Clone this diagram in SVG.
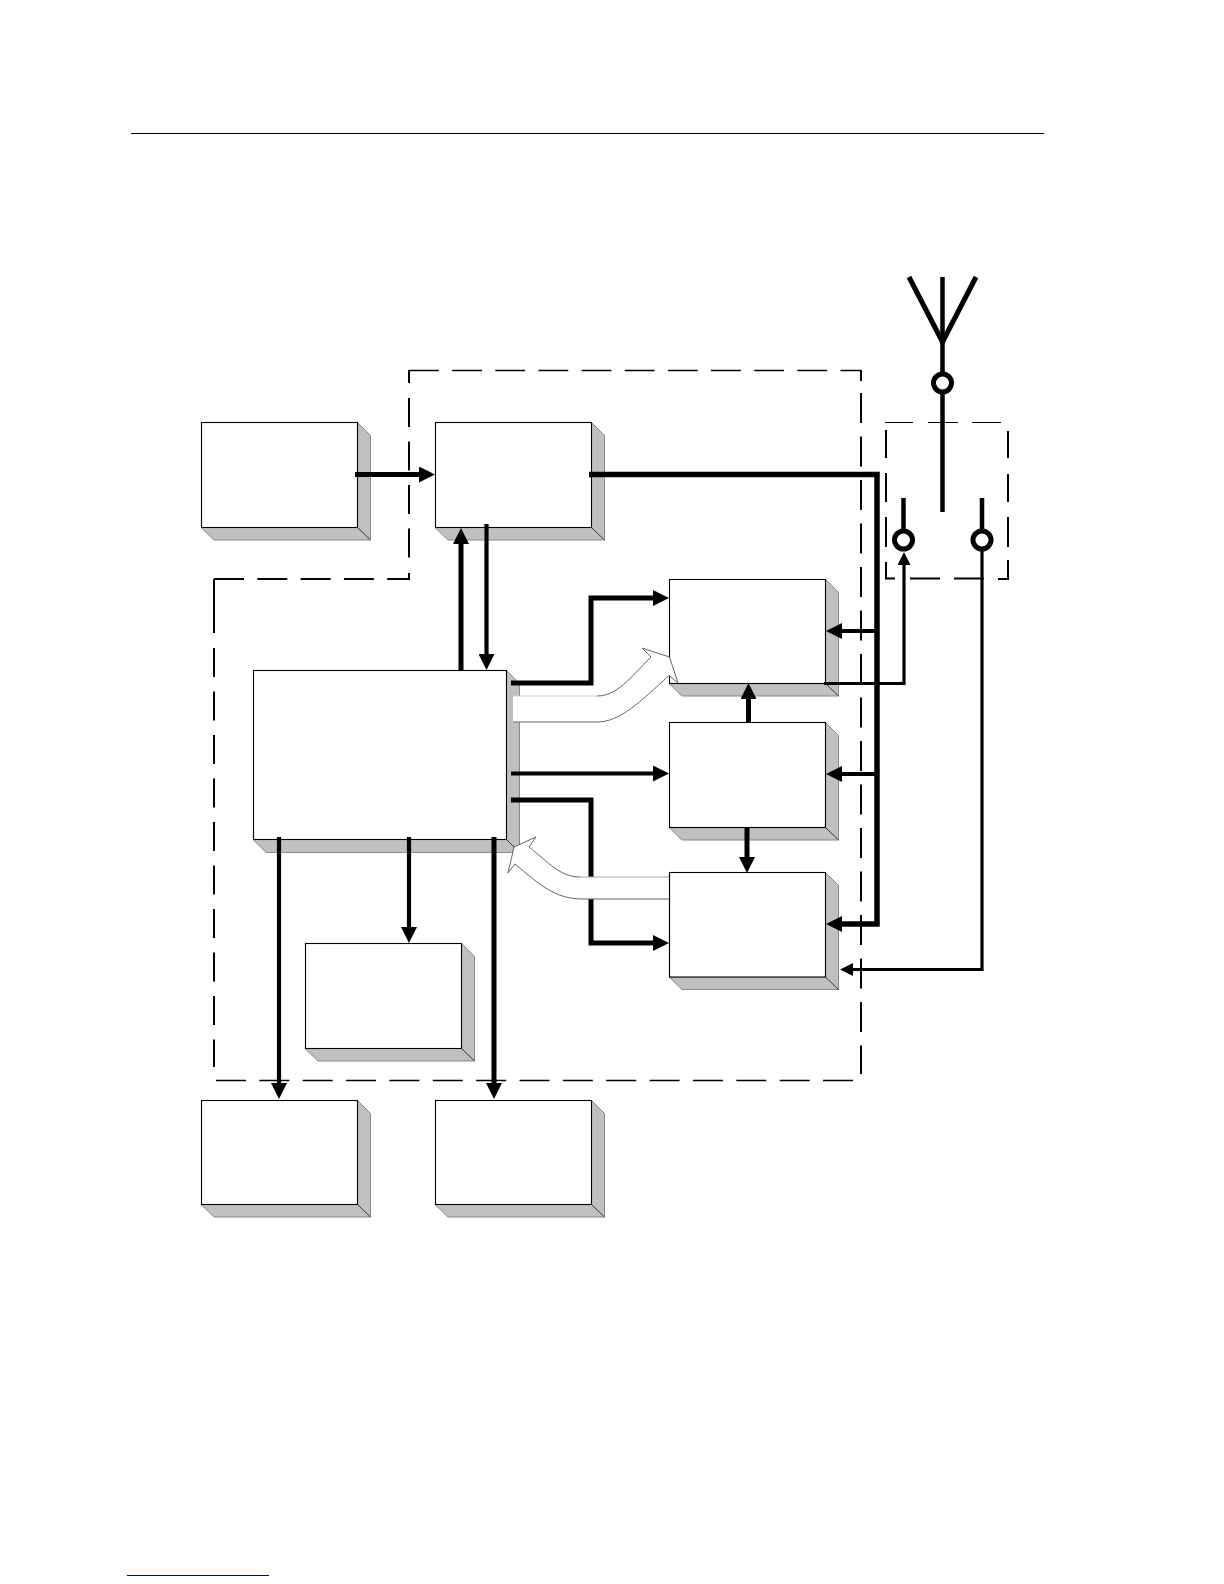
<svg xmlns="http://www.w3.org/2000/svg" width="1224" height="1584" viewBox="0 0 1224 1584">
<defs>
<style>
.face{fill:#fff;stroke:#000;stroke-width:1.1}
.side{fill:#c0c0c0;stroke:#888;stroke-width:1}
.diag{stroke:#333;stroke-width:1;fill:none}
.c{fill:none;stroke:#000;stroke-linejoin:miter}
.t3{stroke-width:3.2}.t4{stroke-width:4.2}.t5{stroke-width:5}
.dv{fill:none;stroke:#000;stroke-width:2}
.dh{fill:none;stroke:#000;stroke-width:1.3}
.term{fill:#fff;stroke:#000;stroke-width:5}
.fat{fill:#fff;stroke:none}
.fl{fill:none;stroke:#666;stroke-width:1}
</style>
<marker id="a" markerUnits="userSpaceOnUse" markerWidth="18" markerHeight="16" refX="6" refY="8" orient="auto"><path d="M0 0L16 8L0 16Z" fill="#000"/></marker>
<marker id="s" markerUnits="userSpaceOnUse" markerWidth="14" markerHeight="14" refX="5" refY="6.500" orient="auto"><path d="M0 0L13 6.500L0 13Z" fill="#000"/></marker>
</defs>
<rect width="1224" height="1584" fill="#fff"/>
<path d="M131 133.500H1044" stroke="#000" stroke-width="1" fill="none"/>
<path d="M127 1575.500H269" stroke="#000080" stroke-width="1.200" fill="none"/>
<g id="boundaries">
<path class="dh" stroke-dasharray="29.800 13.350" d="M409 370.500H861"/>
<path class="dv" d="M861 370V381"/>
<path class="dv" stroke-dasharray="30 13.500" d="M861 393V1074"/>
<path class="dh" stroke-dasharray="30 13.360" d="M216 1080.500H853"/>
<path class="dv" d="M214 579V633"/>
<path class="dv" stroke-dasharray="29 14.500" d="M214 648V1067"/>
<path class="dv" stroke-dasharray="30 13.300" d="M214 579H409"/>
<path class="dv" d="M409 370V383M409 573V580"/>
<path class="dv" stroke-dasharray="29 14.500" d="M409 398V559"/>
<path class="dh" style="stroke-width:1" d="M885 422.500H913M928 422.500H958M972 422.500H1001"/>
<path class="dv" d="M1008 431V458M1008 474V502M1008 517V547M1008 560V579H998M984 578.500H954M940 578.500H910M895 578.500H886V562M886 547V517M886 502V473M886 458V430"/>
</g>
<g id="box-a"><path class="side" d="M357.500 422.500l13 13V540H214l-13-12.500H357.500Z"/><path class="diag" d="M357.500 527.500L370.500 540"/><rect class="face" x="201.500" y="422.500" width="156" height="105"/></g>
<g id="box-b"><path class="side" d="M591.500 422.500l13 13V540H448l-13-12.500H591.500Z"/><path class="diag" d="M591.500 527.500L604.500 540"/><rect class="face" x="435.500" y="422.500" width="156" height="105"/></g>
<g id="box-c"><path class="side" d="M825.500 579.500l13 13V696H682l-13-12.500H825.500Z"/><path class="diag" d="M825.500 683.500L838.500 696"/><rect class="face" x="669.500" y="579.500" width="156" height="104"/></g>
<g id="box-d"><path class="side" d="M825.500 722.500l13 13V840H682l-13-12.500H825.500Z"/><path class="diag" d="M825.500 827.500L838.500 840"/><rect class="face" x="669.500" y="722.500" width="156" height="105"/></g>
<g id="box-e"><path class="side" d="M825.500 872.500l13 13V989.500H682l-13-12.500H825.500Z"/><path class="diag" d="M825.500 977L838.500 989.500"/><rect class="face" x="669.500" y="872.500" width="156" height="104.500"/></g>
<g id="box-main"><path class="side" d="M506.500 670.500l13 13V852.500H266l-13-13H506.500Z"/><path class="diag" d="M506.500 839.500L519.500 852.500"/><rect class="face" x="253.500" y="670.500" width="253" height="169"/></g>
<g id="box-f"><path class="side" d="M461.500 943.500l13 13V1061H318l-13-12.500H461.500Z"/><path class="diag" d="M461.500 1048.500L474.500 1061"/><rect class="face" x="305.500" y="943.500" width="156" height="105"/></g>
<g id="box-g"><path class="side" d="M357.500 1100.500l13 13V1217H214l-13-12.500H357.500Z"/><path class="diag" d="M357.500 1204.500L370.500 1217"/><rect class="face" x="201.500" y="1100.500" width="156" height="104"/></g>
<g id="box-h"><path class="side" d="M591.500 1100.500l13 13V1217H448l-13-12.500H591.500Z"/><path class="diag" d="M591.500 1204.500L604.500 1217"/><rect class="face" x="435.500" y="1100.500" width="156" height="104"/></g>
<g id="connectors">
<path class="c t5" d="M355 474.500H425" marker-end="url(#a)"/>
<path class="c" stroke-width="5.500" d="M589 474.500H877V924H836" marker-end="url(#a)"/>
<path class="c t4" d="M877 631H836" marker-end="url(#a)"/>
<path class="c t4" d="M877 774H836" marker-end="url(#a)"/>
<path class="c t3" d="M824 683.500H904V560" marker-end="url(#s)"/>
<path class="c t3" d="M982 550V969.500H848" marker-end="url(#s)"/>
<path class="c t5" d="M461 670V538" marker-end="url(#a)"/>
<path class="c t4" d="M486.500 524V660" marker-end="url(#a)"/>
<path class="c t5" d="M511 683H591V598H659" marker-end="url(#a)"/>
<path class="c t4" d="M511 773.500H659" marker-end="url(#a)"/>
<path class="c t5" d="M511 800H591V943H659" marker-end="url(#a)"/>
<path class="c t5" d="M748.500 722V693" marker-end="url(#a)"/>
<path class="c t5" d="M747 827V863" marker-end="url(#a)"/>
<path class="c t4" d="M279 837V1089" marker-end="url(#a)"/>
<path class="c t4" d="M409 837V933" marker-end="url(#a)"/>
<path class="c t5" d="M494 837V1089" marker-end="url(#a)"/>
</g>
<g id="fat-arrow-1">
<path class="fat" d="M513 696H597C617 696 630 678 651 657L642 648L669.500 657L678 683L669 675.500C640 702 620 722 597 722H513Z"/>
<path d="M513 696H597" stroke="#ccc" stroke-width="1" fill="none"/>
<path class="fl" d="M513 722H597C620 722 640 702 669 675.500L678 683L669.500 657L642 648L651 657C630 678 617 696 597 696"/>
</g>
<g id="fat-arrow-2">
<path class="fat" d="M669 877H580C560 877 548 862 529 847L536 837L514 847L508 873L515 864C540 885 555 899 583 899H669Z"/>
<path d="M669 877H580" stroke="#aaa" stroke-width="1" fill="none"/>
<path class="fl" d="M669 899H583C555 899 540 885 515 864L508 873L514 847L536 837L529 847C548 862 560 877 580 877"/>
<path d="M669.500 872V977" stroke="#000" stroke-width="1.100" fill="none"/>
</g>
<g id="antenna">
<path class="c" stroke-width="5" d="M909 277L942.500 342L976 277"/>
<path class="c" stroke-width="4.500" d="M942.500 277V512"/>
<circle class="term" cx="942.500" cy="383" r="9"/>
</g>
<g id="switch">
<path class="c" stroke-width="4.500" d="M903.500 498V540M982 498V540"/>
<circle class="term" cx="903.500" cy="540" r="9"/>
<circle class="term" cx="982" cy="540" r="9"/>
</g>
</svg>
